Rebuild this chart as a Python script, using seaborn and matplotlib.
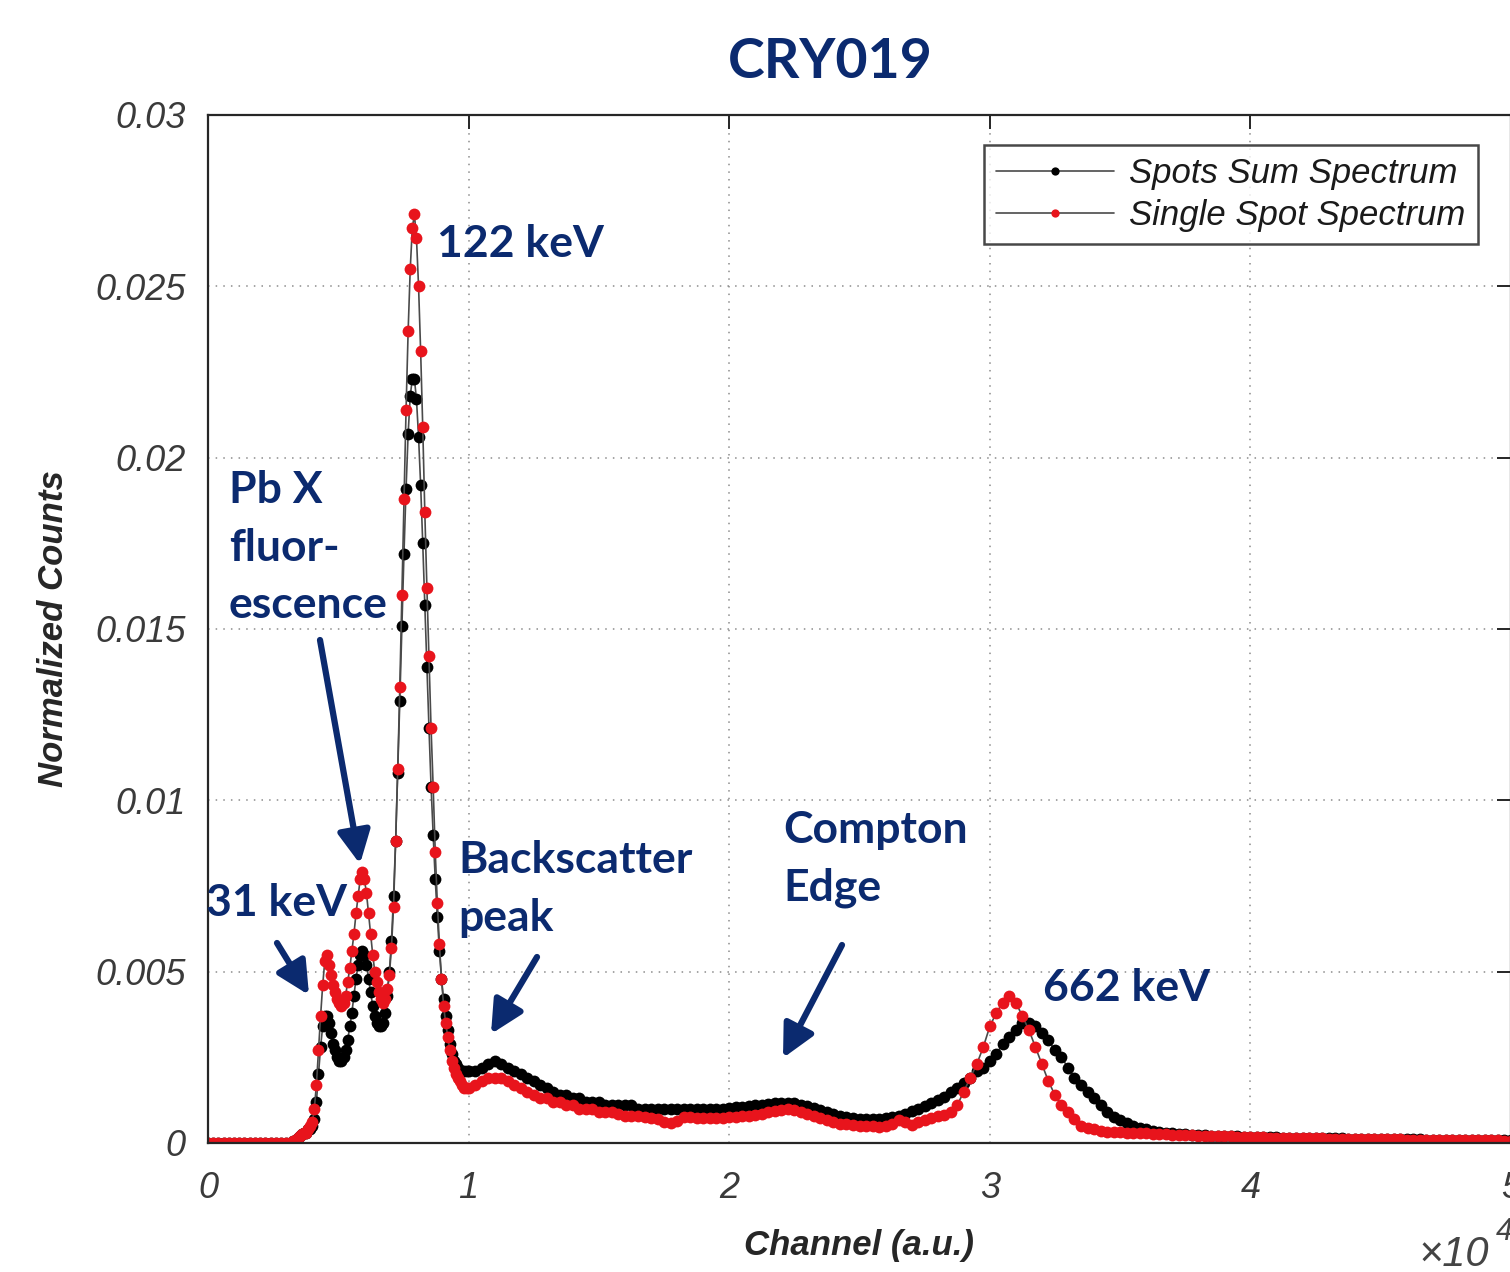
import numpy as np
import pandas as pd
import matplotlib
matplotlib.use("Agg")
import matplotlib.pyplot as plt
import seaborn as sns

# ---------------- data ----------------
channel_low = np.arange(0, 3201, 200)        # flat zero region
channel_peak = np.arange(3280, 10001, 80)    # low-energy peaks
channel_tail = np.arange(10250, 50001, 250)  # continuum + 662 keV

sum_low = [0.0, 0.0, 0.0, 0.0, 0.0, 0.0, 0.0, 0.0, 0.0, 0.0, 0.0, 0.0, 0.0, 0.0, 0.0, 0.0, 0.0]
single_low = [0.0, 0.0, 0.0, 0.0, 0.0, 0.0, 0.0, 0.0, 0.0, 0.0, 0.0, 0.0, 0.0, 0.0, 0.0, 0.0, 0.0]

sum_peak = [
    0.00005, 0.0001, 0.00015, 0.0002, 0.00025, 0.0003, 0.0003, 0.0004, 0.0004, 0.0005,
    0.0007, 0.0012, 0.0020, 0.0028, 0.0034, 0.0037, 0.0037, 0.0035, 0.0032, 0.0029,
    0.0027, 0.0025, 0.0024, 0.0024, 0.0025, 0.0027, 0.0030, 0.0034, 0.0038, 0.0043,
    0.0048, 0.0052, 0.0055, 0.0056, 0.0055, 0.0052, 0.0048, 0.0044, 0.0040, 0.0037,
    0.0035, 0.0034, 0.0034, 0.0035, 0.0038, 0.0043, 0.0050, 0.0059, 0.0072, 0.0088,
    0.0108, 0.0129, 0.0151, 0.0172, 0.0191, 0.0207, 0.0218, 0.0223, 0.0223, 0.0217,
    0.0206, 0.0192, 0.0175, 0.0157, 0.0139, 0.0121, 0.0104, 0.0090, 0.0077, 0.0066,
    0.0056, 0.0048, 0.0042, 0.0037, 0.0033, 0.0029, 0.0026, 0.0024, 0.0023, 0.0022,
    0.0021, 0.0021, 0.0021, 0.0021, 0.0021]
single_peak = [
    0.00005, 0.0001, 0.00015, 0.0002, 0.00025, 0.0003, 0.0003, 0.0004, 0.0005, 0.0006,
    0.0010, 0.0017, 0.0027, 0.0037, 0.0046, 0.0053, 0.0055, 0.0052, 0.0049, 0.0046,
    0.0044, 0.0042, 0.0041, 0.0040, 0.0041, 0.0043, 0.0047, 0.0051, 0.0056, 0.0061,
    0.0067, 0.0072, 0.0077, 0.0079, 0.0077, 0.0073, 0.0067, 0.0061, 0.0055, 0.0050,
    0.0047, 0.0044, 0.0042, 0.0041, 0.0042, 0.0045, 0.0049, 0.0057, 0.0069, 0.0088,
    0.0109, 0.0133, 0.0160, 0.0188, 0.0214, 0.0237, 0.0255, 0.0267, 0.0271, 0.0264,
    0.0250, 0.0231, 0.0209, 0.0184, 0.0162, 0.0142, 0.0121, 0.0104, 0.0085, 0.0070,
    0.0058, 0.0048, 0.0040, 0.0035, 0.0031, 0.0027, 0.0024, 0.0022, 0.0020, 0.0019,
    0.0018, 0.0017, 0.0016, 0.0016, 0.0016]

sum_tail = [
    0.0021, 0.0022, 0.0023, 0.0024, 0.0023, 0.0022, 0.0021, 0.0020, 0.0019, 0.0018,
    0.0017, 0.0016, 0.0015, 0.0014, 0.0014, 0.0013, 0.0013, 0.0012, 0.0012, 0.0012,
    0.0011, 0.0011, 0.0011, 0.0011, 0.0011, 0.0010, 0.0010, 0.0010, 0.0010, 0.0010,
    0.0010, 0.0010, 0.0010, 0.00098, 0.00098, 0.00098, 0.0010, 0.0010, 0.0010, 0.00102,
    0.00104, 0.00106, 0.00108, 0.0011, 0.00112, 0.00114, 0.00116, 0.00117, 0.00118, 0.00116,
    0.00112, 0.00107, 0.00102, 0.00096, 0.00090, 0.00085, 0.00080, 0.00076, 0.00073, 0.00071,
    0.00070, 0.00070, 0.00071, 0.00073, 0.00076, 0.00080, 0.00086, 0.00093, 0.00100, 0.00108,
    0.00116, 0.00125, 0.00135, 0.00148, 0.0016, 0.00175, 0.0019, 0.0021, 0.0022, 0.0024,
    0.0026, 0.0029, 0.0031, 0.0033, 0.0035, 0.0035, 0.0034, 0.0032, 0.0030, 0.0027,
    0.0025, 0.0022, 0.0019, 0.0017, 0.0015, 0.0013, 0.0011, 0.0009, 0.00077, 0.00067,
    0.00058, 0.0005, 0.00044, 0.0004, 0.00036, 0.00033, 0.0003, 0.00028, 0.00026, 0.00025,
    0.00024, 0.00023, 0.00022, 0.00021, 0.0002, 0.0002, 0.00019, 0.00019, 0.00018, 0.00018,
    0.00018, 0.00017, 0.00017, 0.00017, 0.00016, 0.00016, 0.00016, 0.00015, 0.00015, 0.00015,
    0.00015, 0.00014, 0.00014, 0.00014, 0.00013, 0.00013, 0.00013, 0.00013, 0.00012, 0.00012,
    0.00012, 0.00012, 0.00011, 0.00011, 0.00011, 0.00011, 0.0001, 0.0001, 0.0001, 0.0001,
    0.0001, 0.00009, 0.00009, 0.00009, 0.00009, 0.00009, 0.00008, 0.00008, 0.00008, 0.00008]
single_tail = [
    0.0017, 0.0018, 0.0019, 0.0019, 0.0019, 0.0018, 0.0017, 0.0016, 0.0015, 0.0014,
    0.0013, 0.0013, 0.0012, 0.0012, 0.0011, 0.0011, 0.0010, 0.0010, 0.0010, 0.0009,
    0.0009, 0.0009, 0.00085, 0.0008, 0.0008, 0.00078, 0.00075, 0.00072, 0.0007, 0.00062,
    0.00058, 0.00065, 0.00075, 0.00076, 0.00074, 0.00072, 0.00072, 0.00073, 0.00074, 0.00075,
    0.00076, 0.00078, 0.0008, 0.00083, 0.00086, 0.0009, 0.00094, 0.00097, 0.00098, 0.00095,
    0.0009, 0.00085, 0.00078, 0.00072, 0.00066, 0.0006, 0.00056, 0.00055, 0.00052, 0.0005,
    0.0005, 0.00049, 0.00048, 0.0005, 0.00055, 0.00068, 0.0006, 0.00052, 0.0006, 0.00068,
    0.00074, 0.00078, 0.00082, 0.0009, 0.0011, 0.0015, 0.0019, 0.0023, 0.0028, 0.0034,
    0.0038, 0.0041, 0.0043, 0.0041, 0.0037, 0.0033, 0.0028, 0.0023, 0.0018, 0.0014,
    0.0011, 0.0009, 0.0007, 0.0005, 0.00045, 0.0004, 0.00035, 0.00033, 0.00032, 0.00031,
    0.0003, 0.0003, 0.00029, 0.00028, 0.00027, 0.00026, 0.00025, 0.00024, 0.00023, 0.00022,
    0.00022, 0.00021, 0.00021, 0.0002, 0.0002, 0.00019, 0.00019, 0.00018, 0.00018, 0.00017,
    0.00017, 0.00017, 0.00016, 0.00016, 0.00016, 0.00015, 0.00015, 0.00015, 0.00014, 0.00014,
    0.00014, 0.00013, 0.00013, 0.00013, 0.00013, 0.00012, 0.00012, 0.00012, 0.00012, 0.00011,
    0.00011, 0.00011, 0.00011, 0.0001, 0.0001, 0.0001, 0.0001, 0.0001, 0.00009, 0.00009,
    0.00009, 0.00009, 0.00009, 0.00008, 0.00008, 0.00008, 0.00008, 0.00008, 0.00007, 0.00007]

x_ticks = [0, 10000, 20000, 30000, 40000, 50000]
x_tick_labels = ["0", "1", "2", "3", "4", "5"]
y_ticks = [0, 0.005, 0.01, 0.015, 0.02, 0.025, 0.03]
y_tick_labels = ["0", "0.005", "0.01", "0.015", "0.02", "0.025", "0.03"]
series_names = ["Spots Sum Spectrum", "Single Spot Spectrum"]

channels = np.concatenate([channel_low, channel_peak, channel_tail])
df = pd.DataFrame({
    "channel": channels,
    "sum": np.concatenate([sum_low, sum_peak, sum_tail]),
    "single": np.concatenate([single_low, single_peak, single_tail]),
})

# ---------------- styling ----------------
sns.set_style("white")
plt.rcParams["font.family"] = ["Liberation Sans", "DejaVu Sans"]

W, H = 1510, 1272
fig = plt.figure(figsize=(W / 100, H / 100), dpi=100)
ax = fig.add_axes([208 / W, 129 / H, 1303 / W, 1028 / H])

navy = "#0b2a6f"
red = "#e8141c"
line_gray = "#4a4a4a"
axis_col = "#262626"

sns.lineplot(data=df, x="channel", y="sum", ax=ax, color=line_gray, lw=1.2,
             marker="o", markersize=8.5, markerfacecolor="black",
             markeredgecolor="black", markeredgewidth=0, label=series_names[0])
sns.lineplot(data=df, x="channel", y="single", ax=ax, color=line_gray, lw=1.2,
             marker="o", markersize=8.5, markerfacecolor=red,
             markeredgecolor=red, markeredgewidth=0, label=series_names[1])

ax.set_xlim(0, 50000)
ax.set_ylim(0, 0.03)
ax.set_xticks(x_ticks)
ax.set_xticklabels(x_tick_labels)
ax.set_yticks(y_ticks)
ax.set_yticklabels(y_tick_labels)

ax.grid(True, linestyle=(0, (1, 4)), color="#8c8c8c", lw=1.1)
for s in ax.spines.values():
    s.set_visible(True)
    s.set_color(axis_col)
    s.set_linewidth(1.6)

ax.tick_params(axis="both", direction="in", length=10, width=1.4, color=axis_col,
               top=True, right=True, labelsize=26, labelcolor="#3a3a3a")
ax.tick_params(axis="x", pad=20)
ax.tick_params(axis="y", pad=16)
for lab in ax.get_xticklabels() + ax.get_yticklabels():
    lab.set_fontstyle("italic")

ax.set_xlabel("Channel (a.u.)", fontsize=25, fontstyle="italic", fontweight="bold",
              color="#262626", labelpad=17)
ax.set_ylabel("Normalized Counts", fontsize=25, fontstyle="italic", fontweight="bold",
              color="#262626", labelpad=18)

leg = ax.legend(loc="upper right", bbox_to_anchor=(1478 / W, 1 - 145 / H),
                bbox_transform=fig.transFigure, borderaxespad=0,
                prop={"family": "Liberation Sans", "style": "italic", "size": 25},
                frameon=True, fancybox=False, handlelength=3.4, handletextpad=0.45,
                labelspacing=0.25, borderpad=0.35, markerscale=0.7)
leg.get_frame().set_edgecolor("#1a1a1a")
leg.get_frame().set_linewidth(1.8)
for t in leg.get_texts():
    t.set_color("#1a1a1a")

# ---------------- title & annotations ----------------
ann_font = dict(family=["Lato", "DejaVu Sans"], fontweight="bold", color=navy)

def fy(y):
    return H - y

fig.text(830 / W, fy(62) / H, "CRY019", ha="center", va="center", fontsize=40, **ann_font)

texts = [
    ("122 keV", 437, 244),
    ("Pb X", 229, 490),
    ("fluor-", 229, 548),
    ("escence", 229, 605),
    ("31 keV", 206, 903),
    ("Backscatter", 458, 860),
    ("peak", 458, 918),
    ("Compton", 783, 830),
    ("Edge", 783, 888),
    ("662 keV", 1043, 988),
]
for s, x, y in texts:
    fig.text(x / W, fy(y) / H, s, ha="left", va="center", fontsize=32, **ann_font)

arrows = [
    ((320, 640), (360, 864)),
    ((277, 943), (309, 995)),
    ((537, 957), (491, 1034)),
    ((842, 945), (783, 1058)),
]
for (x0, y0), (x1, y1) in arrows:
    ax.annotate("", xy=(x1, fy(y1)), xytext=(x0, fy(y0)),
                xycoords="figure pixels", textcoords="figure pixels",
                arrowprops=dict(arrowstyle="-|>,head_length=0.9,head_width=0.45",
                                lw=4.5, color=navy, mutation_scale=22,
                                shrinkA=0, shrinkB=0))

# x10^4 multiplier
fig.text(1418 / W, fy(1255) / H, "\u00d710", ha="left", va="center", fontsize=30,
         fontstyle="italic", color="#444444")
fig.text(1496 / W, fy(1232) / H, "4", ha="left", va="center", fontsize=22,
         fontstyle="italic", color="#444444")

fig.savefig("out.png", dpi=100)
